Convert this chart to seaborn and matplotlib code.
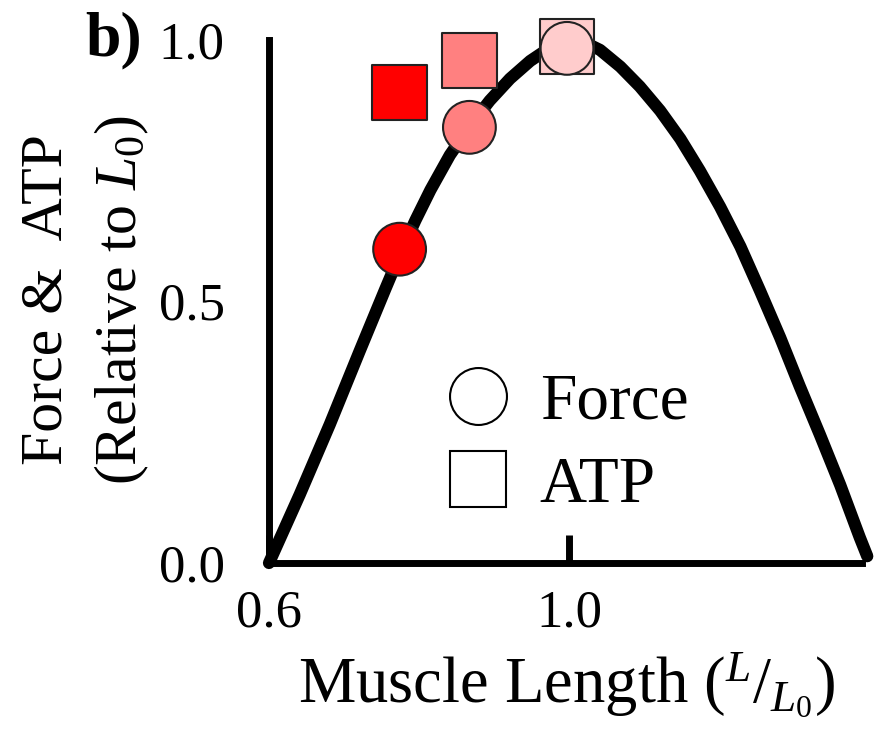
import matplotlib
matplotlib.use("Agg")
import matplotlib.pyplot as plt
import seaborn as sns
import pandas as pd
from matplotlib.lines import Line2D

# Force-length relationship traced along muscle length (L/L0)
curve_length = [0.600, 0.641, 0.681, 0.721, 0.755, 0.775, 0.795, 0.815,
                0.841, 0.868, 0.894, 0.921, 0.948, 0.974, 0.994, 1.005,
                1.021, 1.041, 1.068, 1.094, 1.121, 1.148, 1.174, 1.201,
                1.228, 1.254, 1.281, 1.307, 1.334, 1.361, 1.387, 1.397]
curve_force = [0.000, 0.131, 0.265, 0.406, 0.524, 0.592, 0.655, 0.713,
               0.780, 0.836, 0.884, 0.926, 0.960, 0.985, 0.995, 1.000,
               0.995, 0.981, 0.949, 0.911, 0.865, 0.811, 0.750, 0.681,
               0.605, 0.521, 0.431, 0.338, 0.245, 0.149, 0.049, 0.013]

# Measurements at three muscle lengths
point_length = [0.774, 0.867, 0.997]
force_values = [0.600, 0.833, 0.984]
atp_values = [0.900, 0.960, 0.988]
level_names = ["short", "intermediate", "optimal"]
level_colors = ["#FF0000", "#FF8080", "#FFCCCC"]

x_ticks = [0.6, 1.0]
x_tick_labels = ["0.6", "1.0"]
y_ticks = [0.0, 0.5, 1.0]
y_tick_labels = ["0.0", "0.5", "1.0"]
legend_labels = ["Force", "ATP"]

sns.set_theme(style="white")
plt.rcParams["font.family"] = ["Liberation Serif", "DejaVu Serif"]
plt.rcParams["mathtext.fontset"] = "custom"
plt.rcParams["mathtext.rm"] = "Liberation Serif"
plt.rcParams["mathtext.it"] = "Liberation Serif:italic"
plt.rcParams["text.color"] = "black"

W, H = 874, 751
fig = plt.figure(figsize=(W / 100, H / 100), dpi=100)
left, right, bottom, top = 269, 862, 563, 40
ax = fig.add_axes([left / W, 1 - bottom / H, (right - left) / W, (bottom - top) / H])

curve_df = pd.DataFrame({"length": curve_length, "force": curve_force})
sns.lineplot(data=curve_df, x="length", y="force", sort=False, estimator=None,
             color="black", linewidth=8.8, ax=ax, clip_on=False,
             solid_capstyle="round", solid_joinstyle="round", zorder=3)

pts = pd.DataFrame({"length": point_length, "force": force_values,
                    "atp": atp_values, "level": level_names})
palette = dict(zip(level_names, level_colors))

sns.scatterplot(data=pts, x="length", y="atp", hue="level", palette=palette,
                marker="s", s=1568, edgecolor="#222222", linewidth=1.5,
                legend=False, ax=ax, zorder=4, clip_on=False)
sns.scatterplot(data=pts, x="length", y="force", hue="level", palette=palette,
                marker="o", s=1444, edgecolor="#222222", linewidth=1.5,
                legend=False, ax=ax, zorder=5, clip_on=False)

ax.set_xlim(0.6, 1.39)
ax.set_ylim(0.0, 1.0)
ax.set_xticks(x_ticks, x_tick_labels)
ax.set_yticks(y_ticks, y_tick_labels)
ax.set_xlabel("")
ax.set_ylabel("")

for side in ["top", "right"]:
    ax.spines[side].set_visible(False)
for side in ["left", "bottom"]:
    ax.spines[side].set_linewidth(5)
    ax.spines[side].set_color("black")
    ax.spines[side].set_capstyle("projecting")

ax.tick_params(axis="x", bottom=True, direction="in", length=20, width=5,
               pad=19, labelsize=38, color="black", labelcolor="black")
ax.tick_params(axis="y", left=False, length=0, pad=32, labelsize=38,
               labelcolor="black")

handles = [
    Line2D([], [], marker="o", ls="none", markersize=41, markerfacecolor="white",
           markeredgecolor="black", markeredgewidth=1.5),
    Line2D([], [], marker="s", ls="none", markersize=41, markerfacecolor="white",
           markeredgecolor="black", markeredgewidth=1.5),
]
fig.legend(handles, legend_labels, loc="upper left",
           bbox_to_anchor=(445 / W, 1 - 373 / H), frameon=False, fontsize=47,
           handlelength=1.0, handletextpad=0.45, labelspacing=0.36,
           borderpad=0, borderaxespad=0, labelcolor="black")

fig.text(48 / W, 1 - 300 / H, "Force &  ATP", rotation=90, ha="center",
         va="center", fontsize=43)
fig.text(122 / W, 1 - 300 / H, r"(Relative to $L_0$)", rotation=90,
         ha="center", va="center", fontsize=43)
fig.text(567 / W, 1 - 702 / H, r"Muscle Length (${}^{L}/{}_{L_0}$)",
         ha="center", va="baseline", fontsize=46.5)
fig.text(114 / W, 1 - 40 / H, "b)", fontweight="bold", fontsize=46,
         ha="center", va="center")

fig.savefig("out.png", dpi=100, facecolor="white")
